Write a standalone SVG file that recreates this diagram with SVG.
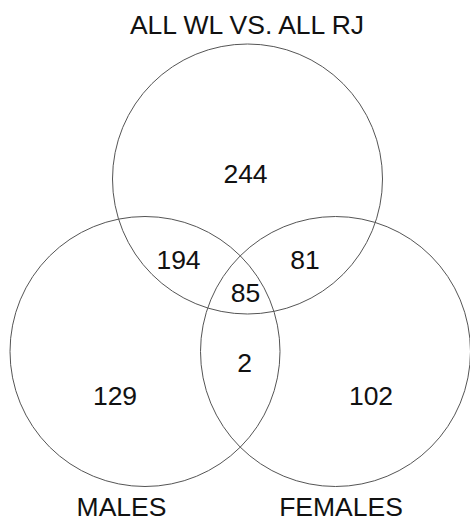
<svg xmlns="http://www.w3.org/2000/svg" width="470" height="523" viewBox="0 0 470 523">
<style>
.c{fill:none;stroke:#555;stroke-width:1}
.t{font-family:"Liberation Sans",Arial,sans-serif;font-size:26.5px;fill:#111;text-anchor:middle}
</style>
<rect width="470" height="523" fill="#fff"/>
<g id="set-all">
<circle class="c" cx="247.5" cy="179" r="135"/>
<text class="t" x="247" y="34">ALL WL VS. ALL RJ</text>
</g>
<g id="set-males">
<circle class="c" cx="145" cy="351.5" r="135"/>
<text class="t" x="121.5" y="516">MALES</text>
</g>
<g id="set-females">
<circle class="c" cx="335.5" cy="351.5" r="135"/>
<text class="t" x="341" y="516">FEMALES</text>
</g>
<g id="counts">
<text class="t" x="245.5" y="183">244</text>
<text class="t" x="178.5" y="269">194</text>
<text class="t" x="305" y="269">81</text>
<text class="t" x="245.5" y="302">85</text>
<text class="t" x="244.5" y="372">2</text>
<text class="t" x="115" y="405">129</text>
<text class="t" x="371" y="405">102</text>
</g>
<g id="connectors"></g>
</svg>
